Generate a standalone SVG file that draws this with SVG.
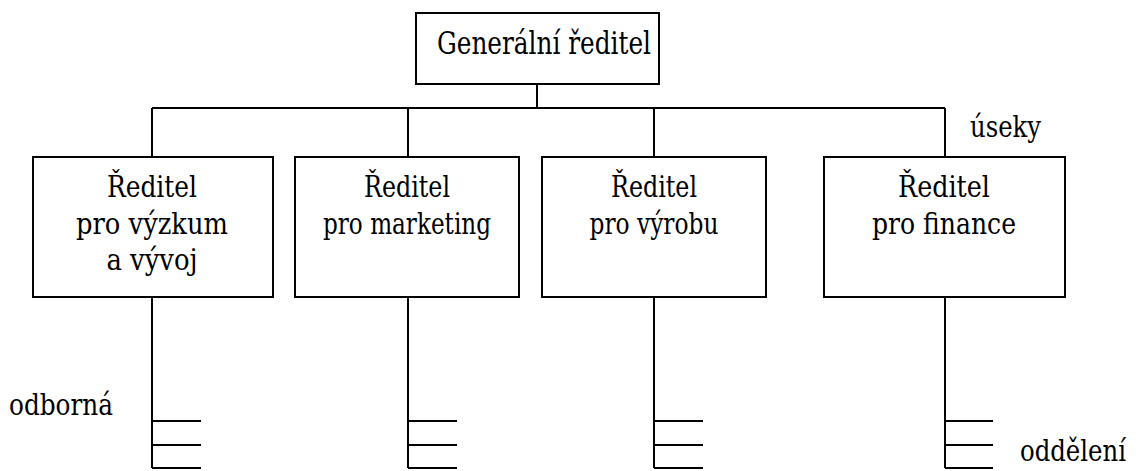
<svg xmlns="http://www.w3.org/2000/svg" width="1136" height="471" viewBox="0 0 1136 471">
  <style>
    .box { fill: #fff; stroke: #000; stroke-width: 2; }
    .ln { fill: none; stroke: #000; stroke-width: 2; }
    .t { font-size: 29px; text-anchor: middle; }
    .lbl { font-size: 30px; }
    .serif { font-family: "DejaVu Serif Condensed", "DejaVu Serif", serif; }
  </style>
  <rect width="1136" height="471" fill="#fff"/>

  <!-- connectors -->
  <g id="connectors" class="ln">
    <path d="M537 84 V108 M152 108 H945 M152 108 V157 M408 108 V157 M654 108 V157 M945 108 V157"/>
    <path d="M152 297 V468 M152 421 H201 M152 445 H201 M152 468 H201"/>
    <path d="M408 297 V468 M408 421 H457 M408 445 H457 M408 468 H457"/>
    <path d="M654 297 V468 M654 421 H703 M654 445 H703 M654 468 H703"/>
    <path d="M945 297 V468 M945 421 H993 M945 445 H993 M945 468 H993"/>
  </g>

  <g class="serif" fill="#000">
    <g id="gr">
      <rect class="box" x="416" y="13" width="243" height="71"/>
      <text x="437" y="54" font-size="31" textLength="214" lengthAdjust="spacingAndGlyphs">Generální ředitel</text>
    </g>

    <g id="vyzkum">
      <rect class="box" x="33" y="157" width="240" height="140"/>
      <text class="t" x="152" y="197" textLength="90" lengthAdjust="spacingAndGlyphs">Ředitel</text>
      <text class="t" x="152" y="234" textLength="152" lengthAdjust="spacingAndGlyphs">pro výzkum</text>
      <text class="t" x="152" y="270" textLength="91" lengthAdjust="spacingAndGlyphs">a vývoj</text>
    </g>

    <g id="marketing">
      <rect class="box" x="295" y="157" width="224" height="140"/>
      <text class="t" x="407" y="197" textLength="86" lengthAdjust="spacingAndGlyphs">Ředitel</text>
      <text class="t" x="407" y="234" textLength="168" lengthAdjust="spacingAndGlyphs">pro marketing</text>
    </g>

    <g id="vyroba">
      <rect class="box" x="542" y="157" width="224" height="140"/>
      <text class="t" x="654" y="197" textLength="86" lengthAdjust="spacingAndGlyphs">Ředitel</text>
      <text class="t" x="654" y="234" textLength="129" lengthAdjust="spacingAndGlyphs">pro výrobu</text>
    </g>

    <g id="finance">
      <rect class="box" x="824" y="157" width="241" height="140"/>
      <text class="t" x="944" y="197" textLength="92" lengthAdjust="spacingAndGlyphs">Ředitel</text>
      <text class="t" x="944" y="234" textLength="144" lengthAdjust="spacingAndGlyphs">pro finance</text>
    </g>

    <g id="labels">
      <text class="lbl" x="970" y="137" textLength="71" lengthAdjust="spacingAndGlyphs">úseky</text>
      <text class="lbl" x="9" y="415" textLength="104" lengthAdjust="spacingAndGlyphs">odborná</text>
      <text class="lbl" x="1020" y="461" font-size="29" textLength="106" lengthAdjust="spacingAndGlyphs">oddělení</text>
    </g>
  </g>
</svg>
